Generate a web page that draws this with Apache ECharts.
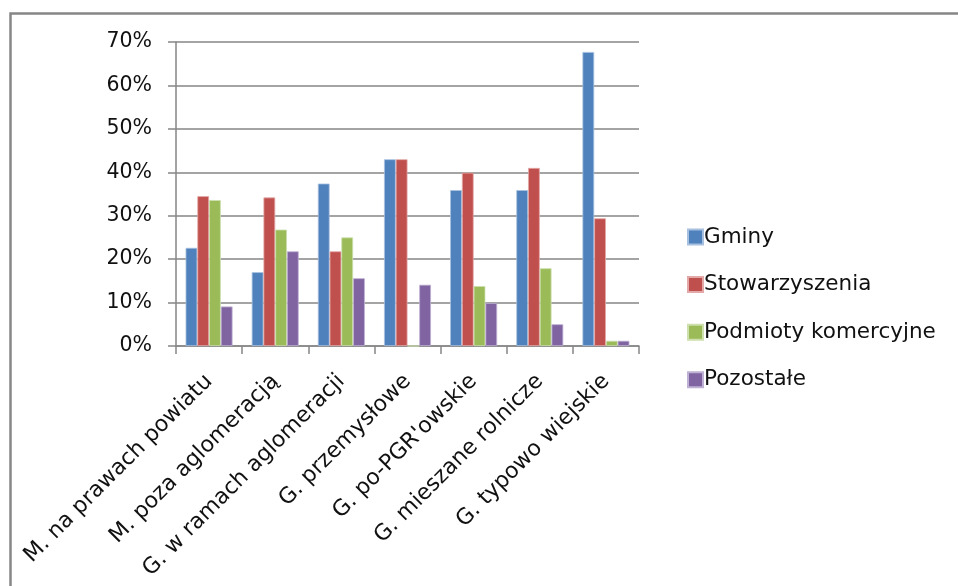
<!DOCTYPE html>
<html>
<head>
<meta charset="utf-8">
<script src="https://cdn.jsdelivr.net/npm/echarts@6/dist/echarts.min.js"></script>
<style>
html,body{margin:0;padding:0;background:#fff;}
#chart{width:958px;height:586px;}
</style>
</head>
<body>
<div id="chart"></div>
<script>
const categories = ["M. na prawach powiatu","M. poza aglomeracją","G. w ramach aglomeracji","G. przemysłowe","G. po-PGR'owskie","G. mieszane rolnicze","G. typowo wiejskie"];
const gminy = [22.6, 17.0, 37.4, 43.0, 35.9, 35.9, 67.7];
const stowarzyszenia = [34.5, 34.2, 21.8, 43.0, 39.9, 41.0, 29.4];
const podmioty = [33.6, 26.8, 25.0, 0, 13.8, 17.9, 1.2];
const pozostale = [9.1, 21.8, 15.6, 14.1, 9.9, 5.0, 1.2];
const seriesNames = ["Gminy","Stowarzyszenia","Podmioty komercyjne","Pozostałe"];
const colors = ["#4F81BD","#C0504D","#9BBB59","#8064A2"];
const borderColors = ["#a7c0e0","#e3a9a8","#cde0ad","#bfb1d3"];

const chart = echarts.init(document.getElementById('chart'), null, {renderer:'canvas'});
const font = 'DejaVu Sans';
const dataSets = [gminy, stowarzyszenia, podmioty, pozostale];
const option = {
  backgroundColor:'#fff',
  animation:false,
  color: colors,
  textStyle:{fontFamily:font},
  graphic:[{
    type:'rect', left:8, top:11, z:-1,
    shape:{x:0,y:0,width:1000,height:1000},
    style:{fill:'none', stroke:'#868686', lineWidth:2.5}
  }],
  grid:{left:176, right:319, top:42, bottom:240, containLabel:false},
  legend:{
    orient:'vertical', left:682, top:221,
    itemWidth:15, itemHeight:15, itemGap:25.6, icon:'rect',
    textStyle:{fontFamily:font, fontSize:21.5, lineHeight:22, color:'#111', padding:[0,0,0,-4]},
    data: seriesNames
  },
  xAxis:{
    type:'category', data:categories,
    boundaryGap:true,
    axisLine:{lineStyle:{color:'#868686', width:1.5}},
    axisTick:{show:true, length:8, alignWithLabel:false, lineStyle:{color:'#868686', width:1.5}},
    axisLabel:{rotate:45, interval:0, margin:32, fontFamily:font, fontSize:22, color:'#111'}
  },
  yAxis:{
    type:'value', min:0, max:70, interval:10,
    axisLine:{show:true, lineStyle:{color:'#868686', width:1.5}},
    axisTick:{show:true, length:8, lineStyle:{color:'#868686', width:1.5}},
    splitLine:{lineStyle:{color:'#868686', width:1.5}},
    axisLabel:{formatter:'{value}%', margin:24, fontFamily:font, fontSize:20.5, color:'#111'}
  },
  series: dataSets.map((d,i)=>({
    name: seriesNames[i], type:'bar', data:d,
    barGap:'0%', barCategoryGap:'29%',
    itemStyle:{color:colors[i], borderColor:borderColors[i], borderWidth:0.8}
  }))
};
chart.setOption(option);
</script>
</body>
</html>
